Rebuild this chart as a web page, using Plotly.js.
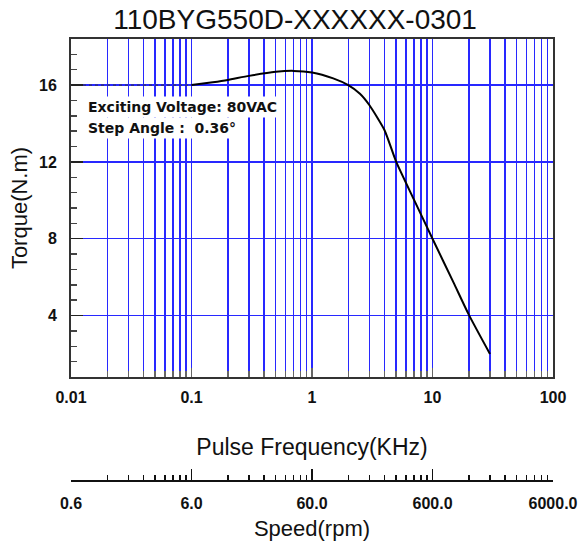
<!DOCTYPE html>
<html>
<head>
<meta charset="utf-8">
<script src="https://cdn.plot.ly/plotly-3.0.1.min.js"></script>
<style>html,body{margin:0;padding:0;background:#fff;}#chart{width:582px;height:547px;}</style>
</head>
<body>
<div id="chart"></div>
<script>
// Torque curve
var freqKHz = [0.1, 0.15, 0.2, 0.3, 0.5, 0.7, 1, 1.5, 2, 2.5, 3, 4, 5, 7, 10, 15, 20, 30];
var torqueNm = [16.0, 16.15, 16.27, 16.48, 16.69, 16.74, 16.66, 16.35, 16.0, 15.55, 14.95, 13.65, 12.0, 10.05, 8.0, 5.7, 4.05, 2.0];
// dotted lead-in at low frequency
var leadFreq = [0.01, 0.1];
var leadTorque = [16, 16];

var freqTicks = [0.01, 0.1, 1, 10, 100];
var freqTickText = ['0.01', '0.1', '1', '10', '100'];
var speedTickText = ['0.6', '6.0', '60.0', '600.0', '6000.0'];
var torqueTicks = [4, 8, 12, 16];
var torqueTickText = ['4', '8', '12', '16'];

var minorFreq = [];
[0.01, 0.1, 1, 10].forEach(function (d) {
  for (var k = 2; k <= 9; k++) minorFreq.push(+(d * k).toPrecision(3));
});

var blue = 'rgb(40,40,255)';
var fontFam = 'Arial, "Liberation Sans", Helvetica, sans-serif';
var noteFam = '"DejaVu Sans", Verdana, sans-serif';

var traces = [
  {
    x: leadFreq, y: leadTorque, type: 'scatter', mode: 'lines',
    line: {color: '#333', width: 1, dash: 'dot'}, hoverinfo: 'skip', showlegend: false
  },
  {
    x: freqKHz, y: torqueNm, type: 'scatter', mode: 'lines',
    line: {color: '#000', width: 2, shape: 'spline', smoothing: 0.55},
    name: 'Torque', showlegend: false
  },
  {
    x: [0.01, 100], y: [0.8, 0.8], xaxis: 'x2', yaxis: 'y', type: 'scatter', mode: 'markers',
    marker: {opacity: 0, size: 1}, hoverinfo: 'skip', showlegend: false
  }
];

var layout = {
  width: 582, height: 547,
  margin: {l: 71, r: 29, t: 39, b: 66, pad: 0},
  paper_bgcolor: '#fff', plot_bgcolor: '#fff',
  font: {family: fontFam, color: '#000'},
  showlegend: false,
  title: {
    text: '110BYG550D-XXXXXX-0301',
    font: {family: fontFam, size: 28, color: '#111'},
    x: 0.507, xref: 'container', xanchor: 'center',
    y: 0.965, yref: 'container', yanchor: 'middle'
  },
  xaxis: {
    type: 'log', range: [-2, 2], domain: [0, 1], anchor: 'y',
    tickmode: 'array', tickvals: freqTicks, ticktext: freqTickText,
    ticks: 'inside', ticklen: 9, tickwidth: 1.5, tickcolor: '#666',
    showgrid: true, gridcolor: blue, gridwidth: 1.5,
    minor: {tickmode: 'array', tickvals: minorFreq, ticks: 'inside', ticklen: 6, tickwidth: 1.5, tickcolor: '#666',
            showgrid: true, gridcolor: blue, gridwidth: 1.5},
    showline: true, linecolor: '#333', linewidth: 2, mirror: true,
    zeroline: false,
    tickfont: {family: fontFam, size: 16, weight: 'bold', color: '#111'},
    ticklabelstandoff: 5,
    title: {text: 'Pulse Frequency(KHz)', font: {family: fontFam, size: 23, color: '#111'}, standoff: 34}
  },
  xaxis2: {
    type: 'log', range: [-2, 2], overlaying: 'x', anchor: 'free', position: 0, side: 'bottom',
    tickmode: 'array', tickvals: freqTicks, ticktext: speedTickText,
    ticks: 'inside', ticklen: 11, tickwidth: 1.5, tickcolor: '#111',
    showgrid: false,
    minor: {tickmode: 'array', tickvals: minorFreq, ticks: 'inside', ticklen: 5, tickwidth: 1.5, tickcolor: '#111', showgrid: false},
    showline: true, linecolor: '#111', linewidth: 2,
    zeroline: false,
    tickfont: {family: fontFam, size: 16, weight: 'bold', color: '#111'},
    ticklabelstandoff: 8,
    title: {text: 'Speed(rpm)', font: {family: fontFam, size: 22, color: '#111'}, standoff: 8}
  },
  yaxis: {
    range: [0.8, 18.4], domain: [0.2353, 1], anchor: 'x',
    tickmode: 'array', tickvals: torqueTicks, ticktext: torqueTickText,
    ticks: 'inside', ticklen: 12, tickwidth: 1.5, tickcolor: '#222',
    showgrid: true, gridcolor: blue, gridwidth: 1.5,
    minor: {tick0: 0.8, dtick: 0.8, ticks: 'inside', ticklen: 6, tickwidth: 1.5, tickcolor: '#444', showgrid: false},
    showline: true, linecolor: '#333', linewidth: 2, mirror: true,
    zeroline: false,
    tickfont: {family: fontFam, size: 16, weight: 'bold', color: '#111'},
    ticklabelstandoff: 9,
    title: {text: 'Torque(N.m)', font: {family: fontFam, size: 22, color: '#111'}, standoff: 5}
  },
  annotations: [
    {
      text: 'Exciting Voltage: 80VAC', xref: 'paper', yref: 'y', x: 0.029, y: 14.87,
      xanchor: 'left', yanchor: 'middle', showarrow: false, bgcolor: '#fff', borderpad: 2,
      font: {family: noteFam, size: 14, weight: 'bold', color: '#111'}
    },
    {
      text: 'Step Angle :\u00a0 0.36\u00b0', xref: 'paper', yref: 'y', x: 0.029, y: 13.75,
      xanchor: 'left', yanchor: 'middle', showarrow: false, bgcolor: '#fff', borderpad: 2,
      font: {family: noteFam, size: 14, weight: 'bold', color: '#111'}
    }
  ]
};

Plotly.newPlot('chart', traces, layout, {staticPlot: true, displayModeBar: false});
</script>
</body>
</html>
